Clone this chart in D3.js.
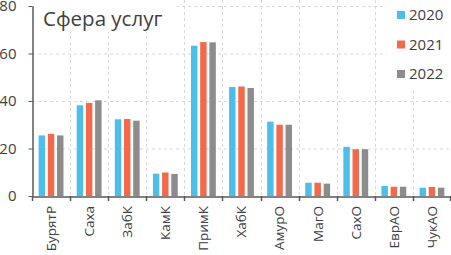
<!DOCTYPE html>
<html><head><meta charset="utf-8">
<script src="https://cdn.jsdelivr.net/npm/d3@7"></script>
<style>body{margin:0;background:#fff}svg{display:block;font-family:"Open Sans","Noto Sans",sans-serif}</style>
</head><body><svg id="c" width="451" height="255"></svg>
<script>
const categories = ["БурятР","Саха","ЗабК","КамК","ПримК","ХабК","АмурО","МагО","СахО","ЕврАО","ЧукАО"];
const years = ["2020","2021","2022"];
const v2020 = [25.5,38.2,32.3,9.4,63.3,45.9,31.3,5.6,20.7,4.2,3.5];
const v2021 = [26.2,39.2,32.4,9.9,64.8,46.1,30.0,5.6,19.7,3.9,3.8];
const v2022 = [25.5,40.3,31.7,9.3,64.7,45.5,30.0,5.2,19.7,3.9,3.5];
const yTicks = [0,20,40,60,80];
const title = "Сфера услуг";
const colors = ["#4bbfe9","#f4694a","#8c8c8c"];

const series = [v2020,v2021,v2022];
const svg = d3.select("#c");
const m = {l:32, r:0, t:6, b:59};
const W = 451, H = 255;
const x = d3.scaleBand().domain(categories).range([m.l, W - m.r]).paddingInner(0).paddingOuter(0);
const y = d3.scaleLinear().domain([0,80]).range([H - m.b, m.t]);
const xs = d3.scaleBand().domain(years).range([0, x.bandwidth()]).paddingInner(0.3).paddingOuter(0.72);

// gridlines
const g = svg.append("g");
g.selectAll("line.h").data(yTicks.filter(d=>d>0)).join("line")
  .attr("x1", m.l).attr("x2", W).attr("y1", d=>y(d)+0.5).attr("y2", d=>y(d)+0.5)
  .attr("stroke","#d9d9d9").attr("stroke-dasharray","3,3");
g.selectAll("line.v").data(categories.slice(1)).join("line")
  .attr("x1", d=>Math.round(x(d))+0.5).attr("x2", d=>Math.round(x(d))+0.5).attr("y1", 0).attr("y2", y(0))
  .attr("stroke","#d9d9d9").attr("stroke-dasharray","3,3");

// bars
categories.forEach((c,i)=>{
  years.forEach((yr,j)=>{
    svg.append("rect").attr("x", x(c)+xs(yr)).attr("width", xs.bandwidth())
      .attr("y", y(series[j][i])).attr("height", y(0)-y(series[j][i])).attr("fill", colors[j]);
  });
});

// title box and legend box (white backgrounds)
svg.append("rect").attr("x",34).attr("y",0).attr("width",143).attr("height",32).attr("fill","#fff");
svg.append("text").attr("x",43).attr("y",26).attr("font-size",20.5).attr("fill","#404040").text(title);
svg.append("rect").attr("x",387).attr("y",0).attr("width",64).attr("height",90).attr("fill","#fff");
const lg = svg.append("g");
years.forEach((yr,j)=>{
  const cy = 15 + j*29.5;
  lg.append("rect").attr("x",397).attr("y",cy-4).attr("width",8).attr("height",8).attr("fill",colors[j]);
  lg.append("text").attr("x",409).attr("y",cy).attr("dy","0.36em").attr("font-size",15).attr("fill","#404040").text(yr);
});

// y axis
const ya = svg.append("g").attr("transform",`translate(${m.l+0.5},0)`)
  .call(d3.axisLeft(y).tickValues(yTicks).tickSize(4).tickSizeOuter(0).tickPadding(12));
ya.select(".domain").attr("stroke","#595959").attr("stroke-width",1.5);
ya.selectAll(".tick line").attr("stroke","#595959");
ya.selectAll("text").attr("font-size",15).attr("fill","#404040").attr("font-family","'Open Sans',sans-serif");

// x axis
const xa = svg.append("g").attr("transform",`translate(0,${y(0)+0.5})`)
  .call(d3.axisBottom(x).tickSize(0).tickFormat(""));
xa.select(".domain").attr("stroke","#595959").attr("stroke-width",1.5);
svg.append("g").selectAll("line").data(categories.concat(["__end"])).join("line")
  .attr("x1", (d,i)=> i<categories.length ? Math.round(x(d))+0.5 : W-0.5)
  .attr("x2", (d,i)=> i<categories.length ? Math.round(x(d))+0.5 : W-0.5)
  .attr("y1", y(0)).attr("y2", y(0)+5).attr("stroke","#595959").attr("stroke-width",1.5);
svg.append("g").selectAll("text").data(categories).join("text")
  .attr("transform", d=>`translate(${x(d)+x.bandwidth()/2},${y(0)+10}) rotate(-90)`)
  .attr("text-anchor","end").attr("dy","0.36em").attr("font-size",13.5).attr("fill","#404040").text(d=>d);
</script></body></html>
